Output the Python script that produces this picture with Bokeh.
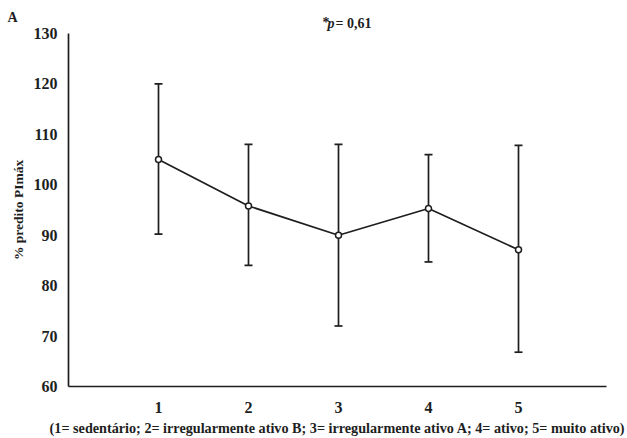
from bokeh.plotting import figure
from bokeh.models import Whisker, ColumnDataSource, Label, Range1d, FixedTicker, TeeHead
from bokeh.embed import file_html
from bokeh.resources import INLINE

categories = [1, 2, 3, 4, 5]
means = [105.0, 95.8, 90.0, 95.3, 87.1]
upper = [120.0, 108.0, 108.0, 106.0, 107.8]
lower = [90.2, 84.0, 72.0, 84.7, 66.8]
y_ticks = [60, 70, 80, 90, 100, 110, 120, 130]

FONT = "Liberation Serif"
INK = "#1e1e1e"

# pixel geometry of the reference: x=0 at 68px, 90 px per category; y=130 at 33px, y=60 at 386px
PX_X = 90.0
PX_Y = 353.0 / 70.0
W, H = 627, 438

src = ColumnDataSource(dict(x=categories, y=means, up=upper, lo=lower))

p = figure(width=W, height=H, output_backend="svg", toolbar_location=None,
           x_range=Range1d(-68 / PX_X, (W - 68) / PX_X),
           y_range=Range1d(60 - (H - 386) / PX_Y, 130 + 33 / PX_Y),
           min_border=0)
p.outline_line_color = None
p.grid.grid_line_color = None
p.background_fill_color = "white"
p.border_fill_color = "white"

w = Whisker(source=src, base="x", upper="up", lower="lo", line_color=INK, line_width=1.7,
            upper_head=TeeHead(size=8, line_color=INK, line_width=1.7),
            lower_head=TeeHead(size=8, line_color=INK, line_width=1.7))
p.add_layout(w)
p.line("x", "y", source=src, line_color=INK, line_width=1.7)
p.scatter("x", "y", source=src, size=6, fill_color="white", line_color=INK, line_width=1.5)

for ax in (p.xaxis[0], p.yaxis[0]):
    ax.axis_line_color = INK
    ax.axis_line_width = 1.7
    ax.major_tick_line_color = None
    ax.minor_tick_line_color = None
    ax.major_label_text_font = FONT
    ax.major_label_text_font_style = "bold"
    ax.major_label_text_font_size = "16px"
    ax.major_label_text_color = INK
    ax.axis_label_text_font = FONT
    ax.axis_label_text_font_style = "bold"
    ax.axis_label_text_color = INK

p.xaxis.fixed_location = 60
p.xaxis.bounds = (0, 5.98)
p.yaxis.fixed_location = 0
p.yaxis.bounds = (60, 130)
p.xaxis.ticker = FixedTicker(ticks=categories)
p.yaxis.ticker = FixedTicker(ticks=y_ticks)
p.xaxis.major_label_standoff = 9
p.yaxis.major_label_standoff = 5
p.xaxis.axis_label = "(1= sedentário; 2= irregularmente ativo B; 3= irregularmente ativo A; 4= ativo; 5= muito ativo)"
p.xaxis.axis_label_text_font_size = "14.2px"
p.xaxis.axis_label_standoff = 4
p.yaxis.axis_label = "% predito PImáx"
p.yaxis.axis_label_text_font_size = "13.5px"
p.yaxis.axis_label_standoff = 5


def px_to_x(px):
    return (px - 68) / PX_X


def py_to_y(py):
    return 130 - (py - 33) / PX_Y


common = dict(text_font=FONT, text_font_size="14px", text_color=INK, text_font_style="bold",
              text_baseline="middle")
p.add_layout(Label(x=px_to_x(7), y=py_to_y(17), text="A", **common))
p.add_layout(Label(x=px_to_x(322), y=py_to_y(22), text="*", **common))
p.add_layout(Label(x=px_to_x(327), y=py_to_y(23), text="p", **{**common, "text_font_style": "bold italic"}))
p.add_layout(Label(x=px_to_x(335), y=py_to_y(23), text="= 0,61", **common))

open("out.html", "w").write(file_html(p, INLINE))
